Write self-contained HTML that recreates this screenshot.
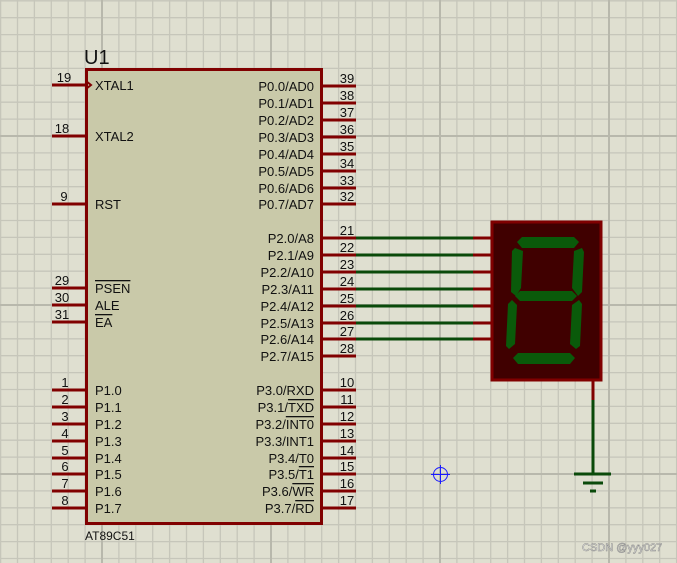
<!DOCTYPE html>
<html><head><meta charset="utf-8"><style>
html,body{margin:0;padding:0;background:#dfdfd0;}
svg{display:block;font-family:"Liberation Sans",Arial,sans-serif;}
.l{font-size:13px;fill:#111;}
.n{font-size:13px;fill:#111;text-anchor:middle;}
.r{text-anchor:end;}
</style></head><body>
<svg width="677" height="563" viewBox="0 0 677 563" xmlns="http://www.w3.org/2000/svg">
<rect width="677" height="563" fill="#dfdfd0"/>
<path stroke="#c6c6ba" stroke-width="1.3" fill="none" d="
M0.6 0V563M17.5 0V563M34.4 0V563M51.3 0V563M68.2 0V563M85.1 0V563M118.9 0V563M135.8 0V563M152.7 0V563M169.6 0V563M186.5 0V563M203.4 0V563M220.3 0V563M237.2 0V563M254.1 0V563M287.9 0V563M304.8 0V563M321.7 0V563M338.6 0V563M355.5 0V563M372.4 0V563M389.3 0V563M406.2 0V563M423.1 0V563M456.9 0V563M473.8 0V563M490.7 0V563M507.6 0V563M524.5 0V563M541.4 0V563M558.3 0V563M575.2 0V563M592.1 0V563M625.9 0V563M642.8 0V563M659.7 0V563M676.6 0V563
M0 0.8H677M0 17.7H677M0 34.6H677M0 51.5H677M0 68.4H677M0 85.3H677M0 102.2H677M0 119.1H677M0 152.9H677M0 169.8H677M0 186.7H677M0 203.6H677M0 220.5H677M0 237.4H677M0 254.3H677M0 271.2H677M0 288.1H677M0 321.9H677M0 338.8H677M0 355.7H677M0 372.6H677M0 389.5H677M0 406.4H677M0 423.3H677M0 440.2H677M0 457.1H677M0 490.9H677M0 507.8H677M0 524.7H677M0 541.6H677M0 558.5H677"/>
<g stroke="#b8b8ac" stroke-width="2">
<line x1="102" y1="0" x2="102" y2="563"/><line x1="271" y1="0" x2="271" y2="563"/><line x1="440" y1="0" x2="440" y2="563"/><line x1="609" y1="0" x2="609" y2="563"/>
<line x1="0" y1="136" x2="677" y2="136"/><line x1="0" y1="305" x2="677" y2="305"/><line x1="0" y1="474" x2="677" y2="474"/>
</g>

<!-- chip -->
<rect x="86.5" y="69.5" width="235" height="454" fill="#c9c9a9" stroke="#800000" stroke-width="3"/>
<text x="84" y="64" style="font-size:20px;fill:#111">U1</text>
<text x="85" y="540" style="font-size:12px;fill:#111">AT89C51</text>

<g stroke="#800000" stroke-width="3">
<line x1="52" y1="85" x2="86" y2="85"/><line x1="52" y1="136" x2="86" y2="136"/><line x1="52" y1="204" x2="86" y2="204"/>
<line x1="52" y1="288" x2="86" y2="288"/><line x1="52" y1="305" x2="86" y2="305"/><line x1="52" y1="322" x2="86" y2="322"/>
<line x1="52" y1="390" x2="86" y2="390"/><line x1="52" y1="407" x2="86" y2="407"/><line x1="52" y1="424" x2="86" y2="424"/><line x1="52" y1="441" x2="86" y2="441"/>
<line x1="52" y1="458" x2="86" y2="458"/><line x1="52" y1="474" x2="86" y2="474"/><line x1="52" y1="491" x2="86" y2="491"/><line x1="52" y1="508" x2="86" y2="508"/>
<line x1="322" y1="86" x2="356" y2="86"/><line x1="322" y1="103" x2="356" y2="103"/><line x1="322" y1="120" x2="356" y2="120"/><line x1="322" y1="137" x2="356" y2="137"/>
<line x1="322" y1="154" x2="356" y2="154"/><line x1="322" y1="171" x2="356" y2="171"/><line x1="322" y1="188" x2="356" y2="188"/><line x1="322" y1="204" x2="356" y2="204"/>
<line x1="322" y1="238" x2="356" y2="238"/><line x1="322" y1="255" x2="356" y2="255"/><line x1="322" y1="272" x2="356" y2="272"/><line x1="322" y1="289" x2="356" y2="289"/>
<line x1="322" y1="306" x2="356" y2="306"/><line x1="322" y1="323" x2="356" y2="323"/><line x1="322" y1="339" x2="356" y2="339"/><line x1="322" y1="356" x2="356" y2="356"/>
<line x1="322" y1="390" x2="356" y2="390"/><line x1="322" y1="407" x2="356" y2="407"/><line x1="322" y1="424" x2="356" y2="424"/><line x1="322" y1="441" x2="356" y2="441"/>
<line x1="322" y1="458" x2="356" y2="458"/><line x1="322" y1="474" x2="356" y2="474"/><line x1="322" y1="491" x2="356" y2="491"/><line x1="322" y1="508" x2="356" y2="508"/>
<line x1="473" y1="238" x2="491" y2="238"/><line x1="473" y1="255" x2="491" y2="255"/><line x1="473" y1="272" x2="491" y2="272"/><line x1="473" y1="289" x2="491" y2="289"/>
<line x1="473" y1="306" x2="491" y2="306"/><line x1="473" y1="323" x2="491" y2="323"/><line x1="473" y1="339" x2="491" y2="339"/>
<line x1="593" y1="381" x2="593" y2="400"/>
</g>
<path d="M86 81 L91 85 L86 89" fill="none" stroke="#800000" stroke-width="2"/>

<g stroke="#0a4a0a" stroke-width="3">
<line x1="356" y1="238" x2="473" y2="238"/><line x1="356" y1="255" x2="473" y2="255"/><line x1="356" y1="272" x2="473" y2="272"/><line x1="356" y1="289" x2="473" y2="289"/>
<line x1="356" y1="306" x2="473" y2="306"/><line x1="356" y1="323" x2="473" y2="323"/><line x1="356" y1="339" x2="473" y2="339"/>
<line x1="593" y1="400" x2="593" y2="474"/>
<line x1="574" y1="474" x2="611" y2="474"/><line x1="583" y1="483" x2="603" y2="483"/><line x1="590" y1="491" x2="596" y2="491"/>
</g>

<rect x="492" y="222" width="109" height="158" fill="#400000" stroke="#800000" stroke-width="3"/>
<g fill="#0a5a0a">
<polygon points="522,237 574,237 579,242 574,248 522,248 517,242"/>
<polygon points="515,248 523,251 521,288 516,296 511,292 512,251"/>
<polygon points="582,248 584,252 582,292 578,296 572,288 574,251"/>
<polygon points="520,291 572,291 577,296 572,301 520,301 515,296"/>
<polygon points="512,300 517,305 515,344 509,349 506,346 508,304"/>
<polygon points="579,300 582,304 580,346 576,349 570,344 572,305"/>
<polygon points="518,353 570,353 575,358 570,364 518,364 513,358"/>
</g>

<g stroke="#1a1aff" stroke-width="1" fill="none">
<circle cx="440.5" cy="474.5" r="7"/><line x1="431" y1="474.5" x2="450" y2="474.5"/><line x1="440.5" y1="465" x2="440.5" y2="484"/>
</g>

<g class="l">
<text x="95" y="90">XTAL1</text><text x="95" y="141">XTAL2</text><text x="95" y="209">RST</text>
<text x="95" y="293" text-decoration="overline">PSEN</text><text x="95" y="310">ALE</text><text x="95" y="327" text-decoration="overline">EA</text>
<text x="95" y="395">P1.0</text><text x="95" y="412">P1.1</text><text x="95" y="429">P1.2</text><text x="95" y="446">P1.3</text>
<text x="95" y="463">P1.4</text><text x="95" y="479">P1.5</text><text x="95" y="496">P1.6</text><text x="95" y="513">P1.7</text>
</g>
<g class="n">
<text x="64" y="82">19</text><text x="62" y="133">18</text><text x="64" y="201">9</text>
<text x="62" y="285">29</text><text x="62" y="302">30</text><text x="62" y="319">31</text>
<text x="65" y="387">1</text><text x="65" y="404">2</text><text x="65" y="421">3</text><text x="65" y="438">4</text>
<text x="65" y="455">5</text><text x="65" y="471">6</text><text x="65" y="488">7</text><text x="65" y="505">8</text>
</g>
<g class="l r">
<text x="314" y="91">P0.0/AD0</text><text x="314" y="108">P0.1/AD1</text><text x="314" y="125">P0.2/AD2</text><text x="314" y="142">P0.3/AD3</text>
<text x="314" y="159">P0.4/AD4</text><text x="314" y="176">P0.5/AD5</text><text x="314" y="193">P0.6/AD6</text><text x="314" y="209">P0.7/AD7</text>
<text x="314" y="243">P2.0/A8</text><text x="314" y="260">P2.1/A9</text><text x="314" y="277">P2.2/A10</text><text x="314" y="294">P2.3/A11</text>
<text x="314" y="311">P2.4/A12</text><text x="314" y="328">P2.5/A13</text><text x="314" y="344">P2.6/A14</text><text x="314" y="361">P2.7/A15</text>
<text x="314" y="395">P3.0/RXD</text>
<text x="314" y="412">P3.1/<tspan text-decoration="overline">TXD</tspan></text>
<text x="314" y="429">P3.2/<tspan text-decoration="overline">INT0</tspan></text>
<text x="314" y="446">P3.3/INT1</text><text x="314" y="463">P3.4/T0</text>
<text x="314" y="479">P3.5/<tspan text-decoration="overline">T1</tspan></text>
<text x="314" y="496">P3.6/<tspan text-decoration="overline">WR</tspan></text>
<text x="314" y="513">P3.7/<tspan text-decoration="overline">RD</tspan></text>
</g>
<g class="n">
<text x="347" y="83">39</text><text x="347" y="100">38</text><text x="347" y="117">37</text><text x="347" y="134">36</text>
<text x="347" y="151">35</text><text x="347" y="168">34</text><text x="347" y="185">33</text><text x="347" y="201">32</text>
<text x="347" y="235">21</text><text x="347" y="252">22</text><text x="347" y="269">23</text><text x="347" y="286">24</text>
<text x="347" y="303">25</text><text x="347" y="320">26</text><text x="347" y="336">27</text><text x="347" y="353">28</text>
<text x="347" y="387">10</text><text x="347" y="404">11</text><text x="347" y="421">12</text><text x="347" y="438">13</text>
<text x="347" y="455">14</text><text x="347" y="471">15</text><text x="347" y="488">16</text><text x="347" y="505">17</text>
</g>
<text x="582" y="551" style="font-size:11px;fill:#f8f8f4;stroke:#888;stroke-width:0.5">CSDN @yyy027</text>
</svg>
</body></html>
